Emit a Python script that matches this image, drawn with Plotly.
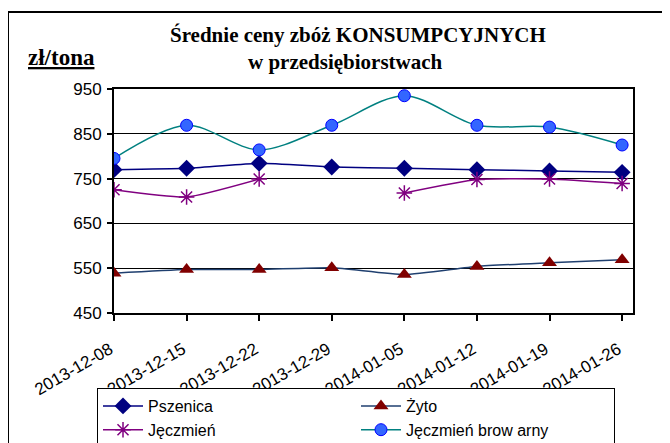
import plotly.graph_objects as go

dates = ["2013-12-08", "2013-12-15", "2013-12-22", "2013-12-29",
         "2014-01-05", "2014-01-12", "2014-01-19", "2014-01-26"]
pszenica = [770, 773, 784, 776, 773, 770, 767, 764]
zyto = [539, 547, 547, 551, 536, 554, 562, 569]
jeczmien = [725, 709, 749, None, 718, 748, 749, 739]
browarny = [795, 869, 814, 869, 935, 869, 865, 825]
y_ticks = [450, 550, 650, 750, 850, 950]

# the page body adds an 8px margin, so lay out in window pixels minus 8
O = 8
W, H = 670 - O, 443 - O
L, R, T, B = 114 - O, 633 - O, 89 - O, 313 - O


def px(x):
    return (x - O - L) / (R - L)


def py(y):
    return (B - (y - O)) / (B - T)


fig = go.Figure()
fig.add_trace(go.Scatter(
    x=dates, y=pszenica, name="Pszenica", mode="lines+markers",
    line=dict(color="#000080", width=1.5, shape="spline", smoothing=0.5),
    marker=dict(symbol="diamond", size=13, color="#000080")))
fig.add_trace(go.Scatter(
    x=dates, y=zyto, name="Żyto", mode="lines+markers",
    line=dict(color="#1F3F6F", width=1.5, shape="spline", smoothing=0.5),
    marker=dict(symbol="triangle-up", size=13, color="#800000")))
fig.add_trace(go.Scatter(
    x=dates, y=jeczmien, name="Jęczmień", mode="lines+markers",
    connectgaps=False,
    line=dict(color="#800080", width=1.5, shape="spline", smoothing=0.5),
    marker=dict(symbol="asterisk-open", size=13,
                line=dict(color="#800080", width=1.5))))
fig.add_trace(go.Scatter(
    x=dates, y=browarny, name="Jęczmień brow arny", mode="lines+markers",
    line=dict(color="#008080", width=1.5, shape="spline", smoothing=0.9),
    marker=dict(symbol="circle", size=12, color="#3366FF",
                line=dict(color="#0000FF", width=1))))

fig.update_layout(
    width=W, height=H,
    margin=dict(l=L, r=W - R, t=T, b=H - B),
    paper_bgcolor="white", plot_bgcolor="white",
    font=dict(family="Liberation Sans, Arial", size=17, color="black"),
    showlegend=True,
    legend=dict(orientation="h", xref="container", yref="container",
                x=(97 - O) / W, y=1 - (388 - O) / H,
                xanchor="left", yanchor="top",
                bordercolor="black", borderwidth=1,
                bgcolor="white", entrywidth=203, entrywidthmode="pixels",
                font=dict(size=16), tracegroupgap=0, itemwidth=40),
    xaxis=dict(type="category", range=[0, 7.15], showgrid=False,
               automargin=False, ticklabelshift=-4, ticklabelstandoff=12,
               showline=True, linecolor="black", linewidth=2, mirror=True,
               ticks="outside", ticklen=6, tickwidth=1.5, tickcolor="black",
               tickangle=-30, tickfont=dict(size=17)),
    yaxis=dict(range=[450, 950], tickvals=y_ticks, showgrid=True,
               automargin=False, ticklabelstandoff=2,
               gridcolor="black", gridwidth=1.2, zeroline=False,
               showline=True, linecolor="black", linewidth=2, mirror=True,
               ticks="outside", ticklen=5, tickwidth=1.5, tickcolor="black",
               tickfont=dict(size=17)),
    shapes=[dict(type="rect", xref="paper", yref="paper",
                 x0=px(8), x1=px(700), y0=py(470), y1=py(12),
                 line=dict(color="black", width=2), layer="below")],
    annotations=[
        dict(text="<b>Średnie ceny zbóż KONSUMPCYJNYCH</b>", x=px(358),
             y=py(35), xref="paper", yref="paper", showarrow=False,
             xanchor="center", yanchor="middle",
             font=dict(family="Liberation Serif, Times New Roman", size=21)),
        dict(text="<b>w przedsiębiorstwach</b>", x=px(345), y=py(62),
             xref="paper", yref="paper", showarrow=False,
             xanchor="center", yanchor="middle",
             font=dict(family="Liberation Serif, Times New Roman", size=21)),
        dict(text="<b><u>zł/tona</u></b>", x=px(61), y=py(58),
             xref="paper", yref="paper", showarrow=False,
             xanchor="center", yanchor="middle",
             font=dict(family="Liberation Serif, Times New Roman", size=23)),
    ],
)

fig.write_html("out.html")
